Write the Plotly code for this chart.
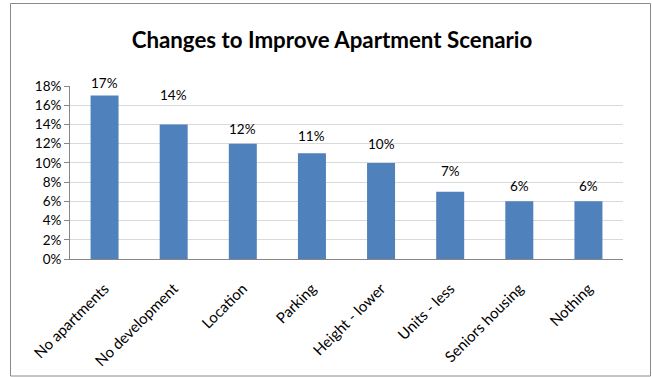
import plotly.graph_objects as go

# Survey results: share of respondents naming each change
categories = ["No apartments", "No development", "Location", "Parking",
              "Height - lower", "Units - less", "Seniors housing", "Nothing"]
shares = [0.17, 0.14, 0.12, 0.11, 0.10, 0.07, 0.06, 0.06]
y_ticks = [0.00, 0.02, 0.04, 0.06, 0.08, 0.10, 0.12, 0.14, 0.16, 0.18]

# vertical nudges (px) for the value labels above each bar
label_lift = [13, 29, 15, 17, 19, 21, 15, 15]

W, H = 652, 377
ML, MR, MT, MB = 70, 29, 86, 118
FONT = "Lato"
AXIS_GREY = "#868686"

fig = go.Figure(go.Bar(
    x=categories, y=shares,
    marker=dict(color="#4F81BD", line=dict(width=0)),
    width=0.405,
))

for cat, v, lift in zip(categories, shares, label_lift):
    fig.add_annotation(x=cat, y=v, text=f"{round(v * 100)}%", showarrow=False,
                       yanchor="middle", yshift=lift,
                       font=dict(family=FONT, size=13.5, color="#000000"))

# outer chart border
pw, ph = W - ML - MR, H - MT - MB
fig.add_shape(type="rect", xref="paper", yref="paper",
              x0=(10.5 - ML) / pw, x1=(650.5 - ML) / pw,
              y0=(H - MB - 376) / ph, y1=(H - MB - 3.5) / ph,
              line=dict(color="#8a8a8a", width=1), fillcolor="rgba(0,0,0,0)",
              layer="below")

fig.update_layout(
    width=W, height=H,
    margin=dict(l=ML, r=MR, t=MT, b=MB, autoexpand=False),
    paper_bgcolor="white", plot_bgcolor="white",
    showlegend=False,
    title=dict(text="<b>Changes to Improve Apartment Scenario</b>",
               x=332 / W, xanchor="center", y=1 - 40 / H, yanchor="middle",
               yref="container",
               font=dict(family=FONT, size=22.3, color="#000000")),
    font=dict(family=FONT, size=13, color="#000000"),
)
fig.update_xaxes(showline=True, linecolor=AXIS_GREY, linewidth=1,
                 tickangle=-45, ticks="", showgrid=False, automargin=False,
                 ticklabelstandoff=14,
                 tickfont=dict(family=FONT, size=15, color="#000000"))
fig.update_yaxes(range=[0, 0.18], tickvals=y_ticks, tickformat=".0%",
                 showline=True, linecolor=AXIS_GREY, linewidth=1,
                 ticks="outside", ticklen=5, tickcolor=AXIS_GREY,
                 showgrid=True, gridcolor="#d9d9d9", gridwidth=1,
                 zeroline=False, automargin=False,
                 tickfont=dict(family=FONT, size=13.5, color="#000000"))

fig.write_html("out.html")
